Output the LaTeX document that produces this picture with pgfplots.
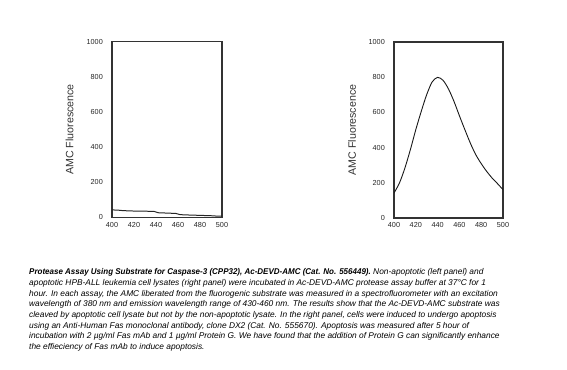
\documentclass[border=0pt]{standalone}
\usepackage{fontspec}
\setmainfont{Liberation Sans}
\usepackage{graphicx}
\usepackage{pgfplots}
\pgfplotsset{compat=1.18}
\begin{document}
\begin{tikzpicture}
\useasboundingbox[fill=white] (0,0) rectangle (567bp,370bp);
\pgfplotsset{
  panel/.style={
    scale only axis,
    anchor=south west,
    width=110bp, height=175.6bp,
    xmin=400, xmax=500, ymin=0, ymax=1000,
    xtick={400,420,...,500},
    ytick={0,200,...,1000},
    major tick length=0pt,
    /pgf/number format/assume math mode=true,
    /pgf/number format/1000 sep={},
    tick label style={font=\fontsize{7.3}{8}\selectfont, text=black!85},
    yticklabel style={inner sep=0pt, xshift=-9bp},
    xticklabel style={inner sep=0pt, yshift=-4.5bp},
    axis line style={line width=1.1pt, black!80},
    ylabel={AMC Fluorescence},
    ylabel style={at={(axis description cs:-0.385,0.5)}, anchor=center, rotate=0, font=\fontsize{10.7}{12}\selectfont, text=black!80},
  }
}
\begin{axis}[panel, at={(112bp,152.7bp)}]
\addplot[black!85, line width=1pt] coordinates {
(400,42)(405,41)(410,38)(418,36)(425,35)(438,34)(442,26)(450,24)(458,22)(462,15)(470,13)(480,11)(490,9)(495,7)(500,6)
};
\end{axis}
\begin{axis}[panel, at={(394bp,152bp)}, width=109bp, height=176bp]
\addplot[black!90, line width=0.9pt, smooth] coordinates {
(400,142)(405,199)(410,284)(415,388)(420,502)(425,606)(430,701)(435,773)(440,799)(445,782)(450,733)(455,663)(460,581)(465,502)(470,426)(475,360)(480,309)(485,265)(490,227)(495,195)(500,161)
};
\end{axis}
\node[anchor=north west, inner sep=0pt, align=left, font=\fontsize{8.4}{10.7}\selectfont\itshape] at (29bp,101.5bp) {%
\scalebox{0.955}[1]{\textbf{Protease Assay Using Substrate for Caspase-3 (CPP32), Ac-DEVD-AMC (Cat. No. 556449).}} Non-apoptotic (left panel) and\\
apoptotic HPB-ALL leukemia cell lysates (right panel) were incubated in Ac-DEVD-AMC protease assay buffer at 37°C for 1\\
hour. In each assay, the AMC liberated from the fluorogenic substrate was measured in a spectrofluorometer with an excitation\\
wavelength of 380 nm and emission wavelength range of 430-460 nm. The results show that the Ac-DEVD-AMC substrate was\\
cleaved by apoptotic cell lysate but not by the non-apoptotic lysate. In the right panel, cells were induced to undergo apoptosis\\
using an Anti-Human Fas monoclonal antibody, clone DX2 (Cat. No. 555670). Apoptosis was measured after 5 hour of\\
incubation with 2 µg/ml Fas mAb and 1 µg/ml Protein G. We have found that the addition of Protein G can significantly enhance\\
the effieciency of Fas mAb to induce apoptosis.};
\end{tikzpicture}
\end{document}
